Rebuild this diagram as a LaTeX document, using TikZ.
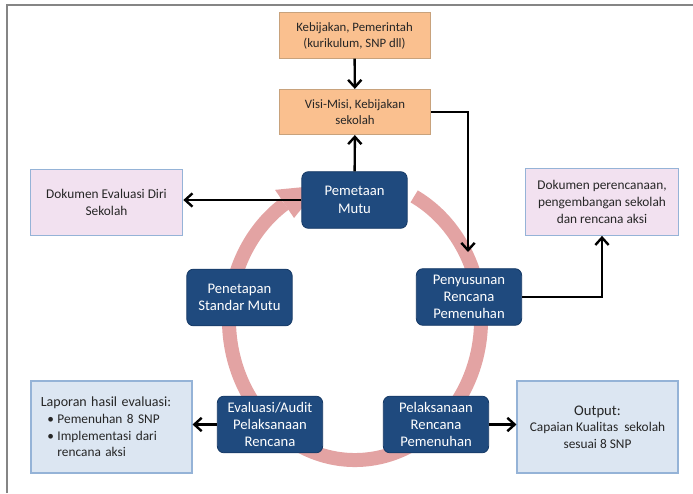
\documentclass[tikz,border=0pt]{standalone}
\usepackage{fontspec}
\setmainfont{Carlito}
\usetikzlibrary{arrows.meta}
\definecolor{orangefill}{HTML}{FAC08F}
\definecolor{orangeline}{HTML}{C8A27C}
\definecolor{bluefill}{HTML}{1F4A7E}
\definecolor{blueline}{HTML}{163A66}
\definecolor{pinkfill}{HTML}{F2E1F0}
\definecolor{lightfill}{HTML}{DCE6F2}
\definecolor{boxline}{HTML}{95B3D7}
\definecolor{ringcol}{HTML}{E3A3A3}
\definecolor{framecol}{HTML}{858585}
\definecolor{txt}{HTML}{262626}
\begin{document}
\begin{tikzpicture}[x=0.75pt,y=-0.75pt,
  obox/.style={draw=orangeline, fill=orangefill, line width=0.6pt, minimum width=113.25pt, minimum height=34pt, align=center, text=txt, font=\fontsize{9.6}{12}\selectfont, inner sep=2pt},
  bbox/.style={draw=blueline, fill=bluefill, line width=0.6pt, rounded corners=5pt, text=white, align=center, font=\fontsize{11}{13}\selectfont, minimum width=79pt, minimum height=42.5pt, inner sep=2pt},
  pbox/.style={draw=boxline, fill=pinkfill, line width=0.8pt, align=center, text=txt, font=\fontsize{10}{12.7}\selectfont, minimum width=114.5pt, minimum height=50pt, inner sep=2pt},
  lbox/.style={draw=boxline, fill=lightfill, line width=0.8pt, align=center, text=txt, font=\fontsize{10}{12.5}\selectfont, minimum width=120.75pt, minimum height=69pt, inner sep=2pt},
  conn/.style={draw=black, line width=1.8pt, -{Straight Barb[length=5.5pt,width=10pt]}},
  ring/.style={draw=ringcol, line width=10.5pt}
]
\useasboundingbox (0,0) rectangle (693,493);
% frame
\draw[framecol, line width=1.5pt] (7,493) -- (7,5) -- (693,5);

% ring arrow
\draw[ring] ([shift={(-62:126 and 140)}]355,320) arc[start angle=-62, end angle=236, x radius=126, y radius=140];
\fill[ringcol] ([shift={(236:143 and 157)}]355,320) -- ([shift={(254:126 and 140)}]355,320) -- ([shift={(236:109 and 123)}]355,320) -- cycle;

% top orange boxes
\node[obox] (keb) at (354.5,35.5) {Kebijakan, Pemerintah\\(kurikulum, SNP dll)};
\node[obox] (visi) at (355,112) {Visi-Misi, Kebijakan\\sekolah};

% cycle boxes
\node[bbox] (pm) at (354.5,200) {Pemetaan\\Mutu};
\node[bbox] (pen) at (239.5,297.5) {Penetapan\\Standar Mutu};
\node[bbox] (pyr) at (469,297) {Penyusunan\\Rencana\\Pemenuhan};
\node[bbox] (eva) at (270,424.5) {Evaluasi/Audit\\Pelaksanaan\\Rencana};
\node[bbox] (pel) at (436,424.5) {Pelaksanaan\\Rencana\\Pemenuhan};

% documents
\node[pbox] (ded) at (106.5,202.5) {Dokumen Evaluasi Diri\\Sekolah};
\node[pbox] (dp) at (602,202) {Dokumen perencanaan,\\pengembangan sekolah\\dan rencana aksi};
\node[lbox, align=left, text width=106pt] (lap) at (111.5,427) {{\fontsize{10.5}{13}\selectfont Laporan hasil evaluasi:}\\
\makebox[12.5pt][l]{\hspace*{5pt}\textbullet}Pemenuhan 8 SNP\\
\makebox[12.5pt][l]{\hspace*{5pt}\textbullet}Implementasi dari\\
\hspace*{12.5pt}rencana aksi};
\node[lbox] (out) at (597.5,427) {{\fontsize{11}{13}\selectfont Output:}\\Capaian Kualitas\ \ sekolah\\sesuai 8 SNP};

% connectors
\coordinate (pyrin) at (468,252);
\draw[conn] (keb) -- (visi);
\draw[conn] (pm) -- (visi);
\draw[conn] (visi.east) -| (pyrin);
\draw[conn] (pyr.east) -| (dp.south);
\draw[conn] (pm.west) -- (pm.west -| ded.east);
\draw[conn] (eva.west) -- (eva.west -| lap.east);
\draw[conn] (pel.east) -- (pel.east -| out.west);
\end{tikzpicture}
\end{document}
